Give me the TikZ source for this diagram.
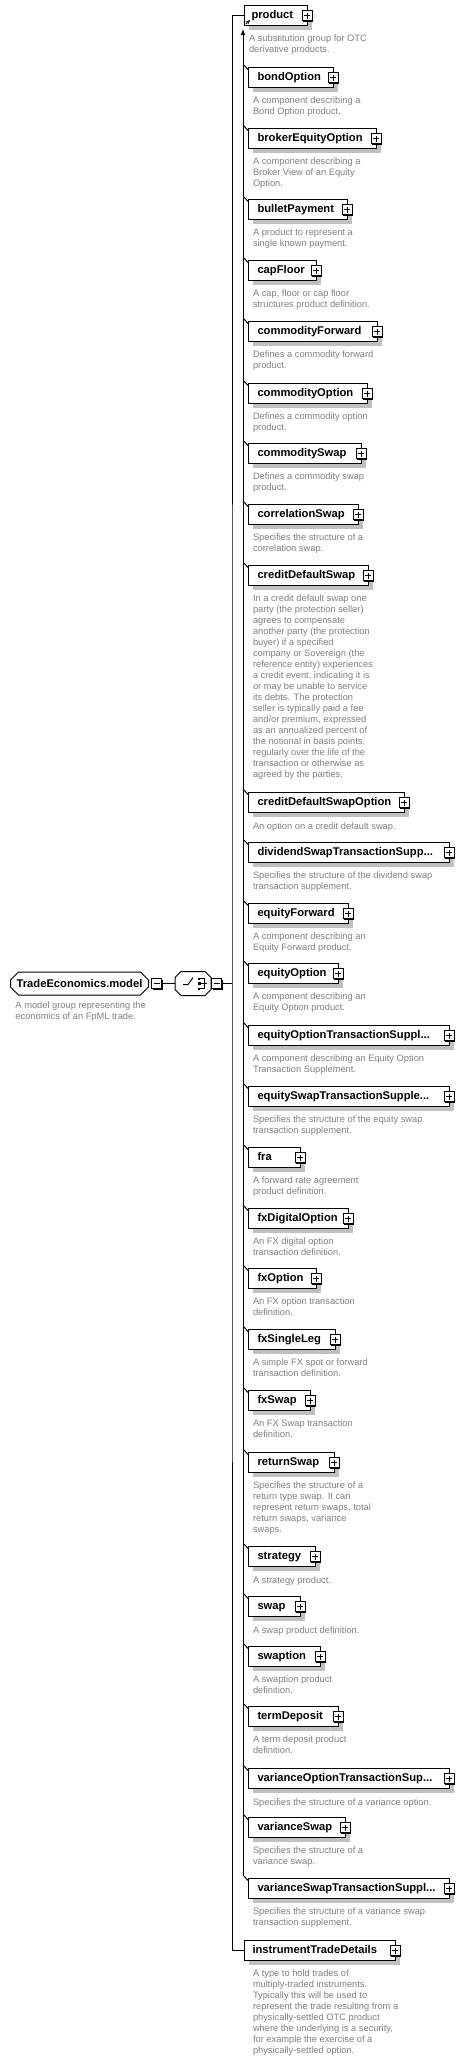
\documentclass[tikz,border=0pt]{standalone}
\usepackage{fontspec}
\setmainfont{Liberation Sans}
\usetikzlibrary{positioning,shapes.misc,shadows}
\definecolor{desctext}{RGB}{128,128,128}
\definecolor{shadowgray}{RGB}{192,192,192}
\newcommand\namefont{\fontsize{11.2}{13}\selectfont\bfseries}
\newcommand\descfont{\fontsize{9.3}{11}\selectfont}
\tikzset{
  minusbox/.style={draw, fill=white, minimum size=10pt, inner sep=0pt,
    general shadow={fill=black, shadow xshift=1pt, shadow yshift=-1pt},
    path picture={\draw (path picture bounding box.center) +(-3pt,0) -- +(3pt,0);}},
  plusbox/.style={minusbox,
    path picture={\draw (path picture bounding box.center) +(-3pt,0) -- +(3pt,0)
      (path picture bounding box.center) +(0,-3pt) -- +(0,3pt);}},
  elem/.style={draw, fill=white, anchor=north west, inner xsep=9pt, inner ysep=0pt,
    minimum height=20pt, text width=#1, align=left, text height=8pt, text depth=2pt,
    font=\namefont,
    general shadow={fill=shadowgray, shadow xshift=4pt, shadow yshift=-4pt},
    append after command={([xshift=-1pt]\tikzlastnode.east) node[plusbox] {}}},
  grp/.style={draw, fill=white, chamfered rectangle, chamfered rectangle xsep=4pt,
    chamfered rectangle ysep=4pt, minimum height=23pt, inner sep=0pt, font=\namefont},
  chc/.style={minimum width=35pt, minimum height=23pt, inner sep=0pt},
  desc/.style={font=\descfont, text=desctext, align=left, inner sep=0pt,
    execute at begin node=\strut}
}
\begin{document}
\begin{tikzpicture}[x=1pt,y=-1pt,line width=1pt]
\useasboundingbox (0,0) rectangle (464,2059);
% model group and choice
\node[grp, minimum width=138pt, anchor=west] (root) at (10,983.5) {TradeEconomics.model};
\node[desc, anchor=north west] (rootd) at (15,1001.3) {A model group representing the\\economics of an FpML trade.};
\node[minusbox, right=2pt of root] (rootminus) {};
\node[chc, right=13pt of rootminus] (choice) {};
\node[minusbox, right=0pt of choice] (choiceminus) {};
\coordinate[right=10pt of choiceminus] (bus);
\draw (rootminus) -- (choice);
\draw (choiceminus) -- (bus);
% choice symbol
\draw ([xshift=6pt]choice.north west) -- ([xshift=-6pt]choice.north east)
  -- ([yshift=-6pt]choice.north east) -- ([yshift=6pt]choice.south east)
  -- ([xshift=-6pt]choice.south east) -- ([xshift=6pt]choice.south west)
  -- ([yshift=6pt]choice.south west) -- ([yshift=-6pt]choice.north west) -- cycle;
\draw ([shift={(-10,1)}]choice.center) -- ++(5,0) -- ++(5,-7);
\fill ([shift={(5,-6)}]choice.center) rectangle ++(2,2);
\fill ([shift={(4.5,-1.5)}]choice.center) rectangle ++(3,3);
\fill ([shift={(5,4)}]choice.center) rectangle ++(2,2);
\draw ([shift={(7,-5)}]choice.center) -- ++(4,0) -- ++(0,10) -- ++(-4,0);
\draw ([shift={(7,0)}]choice.center) -- ++(7,0);

% substitution group head
\node[elem=49, inner xsep=7pt] (product) at (244,5) {product};
\draw[-stealth, line width=0.8pt] ([shift={(2,-2)}]product.south west) -- ++(4,-4);
\node[desc, below right=7.8pt and 4.5pt of product.south west] (productd) {A substitution group for OTC\\derivative products.};

% substitution members
\node[elem=67] (bondopt) at (248,67) {bondOption};
\node[desc, below right=7.8pt and 4.5pt of bondopt.south west] (bondoptd) {A component describing a\\Bond Option product.};
\node[elem=110] (brokereqopt) at (248,128) {brokerEquityOption};
\node[desc, below right=7.8pt and 4.5pt of brokereqopt.south west] (brokereqoptd) {A component describing a\\Broker View of an Equity\\Option.};
\node[elem=81] (bulletpay) at (248,199) {bulletPayment};
\node[desc, below right=7.8pt and 4.5pt of bulletpay.south west] (bulletpayd) {A product to represent a\\single known payment.};
\node[elem=50] (capfloor) at (248,260) {capFloor};
\node[desc, below right=7.8pt and 4.5pt of capfloor.south west] (capfloord) {A cap, floor or cap floor\\structures product definition.};
\node[elem=111] (comfwd) at (248,321) {commodityForward};
\node[desc, below right=7.8pt and 4.5pt of comfwd.south west] (comfwdd) {Defines a commodity forward\\product.};
\node[elem=101] (comopt) at (248,383) {commodityOption};
\node[desc, below right=7.8pt and 4.5pt of comopt.south west] (comoptd) {Defines a commodity option\\product.};
\node[elem=95] (comswap) at (248,443) {commoditySwap};
\node[desc, below right=7.8pt and 4.5pt of comswap.south west] (comswapd) {Defines a commodity swap\\product.};
\node[elem=92] (corrswap) at (248,504) {correlationSwap};
\node[desc, below right=7.8pt and 4.5pt of corrswap.south west] (corrswapd) {Specifies the structure of a\\correlation swap.};
\node[elem=102] (cds) at (248,565) {creditDefaultSwap};
\node[desc, below right=7.8pt and 4.5pt of cds.south west] (cdsd) {In a credit default swap one\\party (the protection seller)\\agrees to compensate\\another party (the protection\\buyer) if a specified\\company or Sovereign (the\\reference entity) experiences\\a credit event, indicating it is\\or may be unable to service\\its debts. The protection\\seller is typically paid a fee\\and/or premium, expressed\\as an annualized percent of\\the notional in basis points,\\regularly over the life of the\\transaction or otherwise as\\agreed by the parties.};
\node[elem=138] (cdsopt) at (248,792) {creditDefaultSwapOption};
\node[desc, below right=7.8pt and 4.5pt of cdsopt.south west] (cdsoptd) {An option on a credit default swap.};
\node[elem=183] (divswaptsupp) at (248,842) {dividendSwapTransactionSupp...};
\node[desc, below right=7.8pt and 4.5pt of divswaptsupp.south west] (divswaptsuppd) {Specifies the structure of the dividend swap\\transaction supplement.};
\node[elem=82] (eqfwd) at (248,903) {equityForward};
\node[desc, below right=7.8pt and 4.5pt of eqfwd.south west] (eqfwdd) {A component describing an\\Equity Forward product.};
\node[elem=72] (eqopt) at (248,963) {equityOption};
\node[desc, below right=7.8pt and 4.5pt of eqopt.south west] (eqoptd) {A component describing an\\Equity Option product.};
\node[elem=183] (eqopttsupp) at (248,1025) {equityOptionTransactionSuppl...};
\node[desc, below right=7.8pt and 4.5pt of eqopttsupp.south west] (eqopttsuppd) {A component describing an Equity Option\\Transaction Supplement.};
\node[elem=183] (eqswaptsupp) at (248,1086) {equitySwapTransactionSupple...};
\node[desc, below right=7.8pt and 4.5pt of eqswaptsupp.south west] (eqswaptsuppd) {Specifies the structure of the equity swap\\transaction supplement.};
\node[elem=34] (fra) at (248,1147) {fra};
\node[desc, below right=7.8pt and 4.5pt of fra.south west] (frad) {A forward rate agreement\\product definition.};
\node[elem=82] (fxdigopt) at (248,1208) {fxDigitalOption};
\node[desc, below right=7.8pt and 4.5pt of fxdigopt.south west] (fxdigoptd) {An FX digital option\\transaction definition.};
\node[elem=50] (fxopt) at (248,1268) {fxOption};
\node[desc, below right=7.8pt and 4.5pt of fxopt.south west] (fxoptd) {An FX option transaction\\definition.};
\node[elem=69] (fxsingleleg) at (248,1329) {fxSingleLeg};
\node[desc, below right=7.8pt and 4.5pt of fxsingleleg.south west] (fxsinglelegd) {A simple FX spot or forward\\transaction definition.};
\node[elem=44] (fxswap) at (248,1390) {fxSwap};
\node[desc, below right=7.8pt and 4.5pt of fxswap.south west] (fxswapd) {An FX Swap transaction\\definition.};
\node[elem=68] (retswap) at (248,1452) {returnSwap};
\node[desc, below right=7.8pt and 4.5pt of retswap.south west] (retswapd) {Specifies the structure of a\\return type swap. It can\\represent return swaps, total\\return swaps, variance\\swaps.};
\node[elem=49] (strategy) at (248,1546) {strategy};
\node[desc, below right=7.8pt and 4.5pt of strategy.south west] (strategyd) {A strategy product.};
\node[elem=34] (swap) at (248,1596) {swap};
\node[desc, below right=7.8pt and 4.5pt of swap.south west] (swapd) {A swap product definition.};
\node[elem=54] (swaption) at (248,1646) {swaption};
\node[desc, below right=7.8pt and 4.5pt of swaption.south west] (swaptiond) {A swaption product\\definition.};
\node[elem=72] (termdep) at (248,1706) {termDeposit};
\node[desc, below right=7.8pt and 4.5pt of termdep.south west] (termdepd) {A term deposit product\\definition.};
\node[elem=183] (varopttsupp) at (248,1768) {varianceOptionTransactionSup...};
\node[desc, below right=7.8pt and 4.5pt of varopttsupp.south west] (varopttsuppd) {Specifies the structure of a variance option.};
\node[elem=79] (varswap) at (248,1817) {varianceSwap};
\node[desc, below right=7.8pt and 4.5pt of varswap.south west] (varswapd) {Specifies the structure of a\\variance swap.};
\node[elem=183] (varswaptsupp) at (248,1878) {varianceSwapTransactionSuppl...};
\node[desc, below right=7.8pt and 4.5pt of varswaptsupp.south west] (varswaptsuppd) {Specifies the structure of a variance swap\\transaction supplement.};

% last choice branch
\node[elem=135, inner xsep=8pt] (itd) at (244,1940) {instrumentTradeDetails};
\node[desc, below right=7.8pt and 8.5pt of itd.south west] (itdd) {A type to hold trades of\\multiply-traded instruments.\\Typically this will be used to\\represent the trade resulting from a\\physically-settled OTC product\\where the underlying is a security,\\for example the exercise of a\\physically-settled option.};

% connectors
\draw (product.west) -| (bus) |- (itd.west);
\coordinate (subtop) at ([shift={(-1,3)}]product.south west);
\coordinate (subbot) at ([shift={(-5,-2)}]varswaptsupp.north west);
\draw[-latex] (subbot) -- (subtop);
\foreach \m in {bondopt,brokereqopt,bulletpay,capfloor,comfwd,comopt,comswap,corrswap,cds,cdsopt,divswaptsupp,eqfwd,eqopt,eqopttsupp,eqswaptsupp,fra,fxdigopt,fxopt,fxsingleleg,fxswap,retswap,strategy,swap,swaption,termdep,varopttsupp,varswap,varswaptsupp}
  \draw ([shift={(-4,-2)}]\m.north west) -- ([shift={(0,2.5)}]\m.north west);
\end{tikzpicture}
\end{document}
